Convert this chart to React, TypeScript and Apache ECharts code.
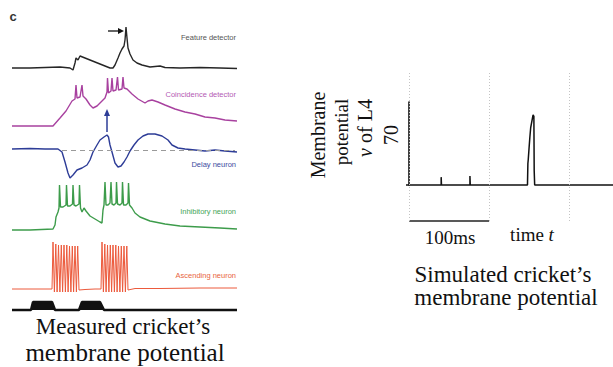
import React, { useEffect, useRef } from "react";
import * as echarts from "echarts";

// ---- Measured traces: [time, potential above resting level] ----
const featureDetector: [number, number][] = [
  [2, 0], [20, 0], [35, 0.5], [50, 1], [60, 0], [63, -2], [65, 5], [66, 10], [68, 8], [70, 12],
  [75, 10], [80, 8], [85, 6], [90, 4], [95, 2], [100, 0], [103, 0], [105, 3], [108, 10], [110, 15],
  [112, 19], [114, 22], [115, 28], [116, 41], [117, 30], [118, 20], [120, 14], [123, 8], [127, 5],
  [132, 3], [140, 1], [150, 2], [155, 0.5], [170, 0], [190, 0.5], [210, 0], [227, -0.5],
];
const coincidenceDetector: [number, number][] = [
  [2, 0], [20, 0], [43, 0], [50, 8], [56, 15], [62, 25], [65, 27], [66, 41], [67, 28], [70, 29],
  [72, 41], [73, 30], [76, 27], [80, 21], [83, 18], [87, 20], [91, 24], [95, 28], [97, 34],
  [97.5, 48], [98.5, 33], [101, 35], [102, 48], [103, 35], [106, 36], [107.5, 49], [108.5, 36],
  [112, 37], [113, 49], [114, 38], [117, 37], [122, 32], [128, 27], [135, 23], [138, 25],
  [142, 26], [148, 24], [155, 21], [165, 17], [175, 14], [185, 12], [195, 9], [205, 8], [215, 6], [227, 5],
];
const delayNeuron: [number, number][] = [
  [2, 0], [20, 0.5], [35, 0], [48, 0], [52, -3], [55, -13], [58, -24], [60, -29], [63, -26],
  [67, -21], [72, -19], [77, -16], [80, -11], [83, -3], [87, 4], [90, 9], [94, 12], [97, 14],
  [98.5, 12], [100, 4], [102, -3], [105, -14], [108, -18], [111, -17], [114, -13], [117, -8],
  [120, -2], [124, 4], [128, 9], [133, 13], [138, 15], [145, 15], [152, 13], [158, 9], [162, 4],
  [168, 1], [175, 0], [185, -1], [195, -2], [205, -1], [215, -2], [227, -3],
];
const delayRestLevel = -1;
const delayRestFrom = 52;
const delayRestTo = 225;
const inhibitoryNeuron: [number, number][] = [
  [2, 0], [20, 0], [43, 1], [45, 5], [46, 13], [48, 18], [49, 22], [49.5, 45], [50.5, 23], [53, 23],
  [56, 25], [56.5, 45], [57.5, 24], [60, 24], [62.5, 26], [63, 45], [64, 25], [66, 24], [69, 26],
  [69.5, 45], [70.5, 22], [72, 18], [74, 22], [76, 19], [80, 14], [85, 11], [90, 8], [92, 7],
  [93, 20], [94, 25], [95, 48], [96, 25], [98, 25], [100, 27], [101, 48], [102, 26], [104, 25],
  [106, 27], [106.5, 48], [107.5, 26], [110, 25], [112, 27], [112.5, 48], [113.5, 25], [116, 25],
  [118, 27], [118.5, 47], [119.5, 25], [122, 22], [125, 17], [130, 13], [140, 9], [155, 6],
  [170, 4], [190, 3], [210, 2], [227, 1],
];
const ascendingNeuron: [number, number][] = [
  [2, 0], [20, 0], [42, 0], [43, 47], [44.4, -3], [45.8, 45], [47.1, -3], [48.5, 44], [49.9, -3],
  [51.3, 44], [52.6, -3], [54, 44], [55.4, -3], [56.8, 44], [58.1, -3], [59.5, 43], [60.9, -3],
  [62.3, 43], [63.6, -3], [65, 43], [66.4, -3], [67.7, 43], [69, -1], [75, -0.5], [85, 0], [91, 0],
  [92, 47], [93.4, -3], [94.8, 45], [96.1, -3], [97.5, 44], [98.9, -3], [100.3, 44], [101.6, -3],
  [103, 44], [104.4, -3], [105.8, 44], [107.1, -3], [108.5, 43], [109.9, -3], [111.3, 43],
  [112.6, -3], [114, 43], [115.4, -3], [116.8, 43], [118, -1], [125, 0.5], [150, 0.5], [190, 1], [227, 1],
];
const stimulus: [number, number][] = [
  [2, 0], [21, 0], [23, 8], [42, 8], [45, 0], [69, 0], [72, 8], [90, 8], [94, 0], [227, 0],
];

// ---- Simulated trace (ms, membrane potential v of L4) ----
const simulatedL4: [number, number][] = [
  [-4, 0], [40, 0], [40, 11], [40.4, 0], [76, 0], [76, 12.6], [76.4, 0], [148, 0], [148.5, 30],
  [149, 36], [150, 52], [151, 67], [152, 80], [153, 86], [154, 92], [155, 98], [156, 96],
  [156.4, 20], [157, 0], [255, 0],
];
const simGridTimes = [0, 100, 200];
const scaleBar: [number, number][] = [[0, 0], [100, 0]];
const yTickLabel = 70;

const traceNames = ["Feature detector", "Coincidence detector", "Delay neuron", "Inhibitory neuron", "Ascending neuron"];

const SERIF = "Liberation Serif";
const SANS = "Liberation Sans";

function txt(x: number, y: number, text: string, size: number, extra: any = {}) {
  return {
    type: "text", x, y, ...extra,
    style: {
      text, fontFamily: SERIF, fontSize: size, fill: "#111", align: "center", verticalAlign: "middle",
      ...(extra.style || {}),
    },
  };
}

export default function App() {
  const ref = useRef<HTMLDivElement>(null);
  useEffect(() => {
    const chart = echarts.init(ref.current!, null, { renderer: "svg" });
    const layout = [
      { base: 68, min: -5, max: 45 },
      { base: 126, min: -5, max: 52 },
      { base: 149, min: -32, max: 18 },
      { base: 230, min: -5, max: 50 },
      { base: 289, min: -6, max: 50 },
      { base: 310, min: -3, max: 12 },
    ];
    const datas = [featureDetector, coincidenceDetector, delayNeuron, inhibitoryNeuron, ascendingNeuron, stimulus];
    const colors = ["#262626", "#a8419f", "#2d3c97", "#3d9c4b", "#ec5a3c", "#111111"];
    const labelColors = ["#555555", "#b45ab4", "#3d4ba0", "#45a457", "#e8643e"];
    const labelY = [37, 94, 164, 211, 275];

    const grids: any[] = layout.map((l) => ({
      left: 10, width: 227, top: l.base - l.max, height: l.max - l.min,
    }));
    grids.push({ left: 406, right: 0, top: 73, bottom: 146 });
    grids.push({ left: 406, right: 0, top: 102, bottom: 182 });

    const xAxes: any[] = layout.map((_, i) => ({ type: "value", gridIndex: i, min: 0, max: 227, show: false }));
    xAxes.push({ type: "value", gridIndex: 6, min: -4, max: 255, show: false });
    xAxes.push({ type: "value", gridIndex: 7, min: -4, max: 255, show: false });

    const yAxes: any[] = layout.map((l, i) => ({ type: "value", gridIndex: i, min: l.min, max: l.max, show: false }));
    yAxes.push({ type: "value", gridIndex: 6, min: 0, max: 1, show: false });
    yAxes.push({
      type: "value", gridIndex: 7, min: 0, max: 116, interval: 70,
      axisLine: { show: true, lineStyle: { color: "#111", width: 1.6 } },
      axisTick: { show: false },
      splitLine: { show: false },
      axisLabel: {
        rotate: 90, margin: 5, color: "#111", fontFamily: SERIF, fontSize: 20,
        formatter: (v: number) => (v === yTickLabel ? String(v) : ""),
        showMinLabel: false, showMaxLabel: false,
      },
    });

    const series: any[] = datas.map((d, i) => {
      const s: any = {
        type: "line", xAxisIndex: i, yAxisIndex: i, data: d, symbol: "none", clip: false,
        lineStyle: { color: colors[i], width: i === 5 ? 2.5 : i === 4 ? 1 : 1.4 },
        silent: true,
      };
      if (i === 5) s.areaStyle = { color: "#111", opacity: 1 };
      if (i === 2) {
        s.markLine = {
          silent: true, symbol: "none", label: { show: false },
          lineStyle: { color: "#9a9a9a", type: [5, 4], width: 1 },
          data: [[{ coord: [delayRestFrom, delayRestLevel] }, { coord: [delayRestTo, delayRestLevel] }]],
        };
      }
      return s;
    });
    series.push({
      type: "line", xAxisIndex: 6, yAxisIndex: 6, data: scaleBar, symbol: "none", clip: false,
      lineStyle: { color: "#222", width: 1.3 },
      markLine: {
        silent: true, symbol: "none", label: { show: false },
        lineStyle: { color: "#c4c4c4", type: [1, 2], width: 1 },
        data: simGridTimes.map((t) => ({ xAxis: t })),
      },
    });
    series.push({
      type: "line", xAxisIndex: 7, yAxisIndex: 7, data: simulatedL4, symbol: "none", clip: false,
      lineStyle: { color: "#111", width: 1.5 },
    });

    const graphics: any[] = [
      { type: "text", x: 13, y: 16, style: { text: "c", font: "bold 13px Liberation Sans", fill: "#333", align: "center", verticalAlign: "middle" } },
      { type: "line", shape: { x1: 108, y1: 31, x2: 119, y2: 31 }, style: { stroke: "#111", lineWidth: 1.3 } },
      { type: "polygon", shape: { points: [[118, 28], [118, 34], [124, 31]] }, style: { fill: "#111" } },
      { type: "line", shape: { x1: 107, y1: 132, x2: 107, y2: 115 }, style: { stroke: "#2d3c97", lineWidth: 1.5 } },
      { type: "polygon", shape: { points: [[104, 116], [110, 116], [107, 109]] }, style: { fill: "#2d3c97" } },
      txt(123, 326, "Measured cricket\u2019s", 23),
      txt(125, 352, "membrane potential", 25),
      txt(318, 135, "Membrane", 20, { rotation: Math.PI / 2 }),
      {
        type: "text", x: 341, y: 132, rotation: Math.PI / 2,
        style: { text: "potential", font: "19px Liberation Serif", fill: "#111", align: "center", verticalAlign: "middle" },
      },
      {
        type: "text", x: 365, y: 128, rotation: Math.PI / 2,
        style: {
          text: "{i|v}{n| of L4}", fill: "#111", align: "center", verticalAlign: "middle",
          rich: {
            i: { fontFamily: SERIF, fontSize: 20, fontStyle: "italic", fill: "#111" },
            n: { fontFamily: SERIF, fontSize: 20, fill: "#111" },
          },
        },
      },
      txt(450, 237, "100ms", 19),
      {
        type: "text", x: 532, y: 234,
        style: {
          text: "{n|time }{i|t}", fill: "#111", align: "center", verticalAlign: "middle",
          rich: {
            i: { fontFamily: SERIF, fontSize: 19, fontStyle: "italic", fill: "#111" },
            n: { fontFamily: SERIF, fontSize: 19, fill: "#111" },
          },
        },
      },
      txt(503, 274, "Simulated cricket\u2019s", 23),
      txt(506, 297, "membrane potential", 23),
    ];
    traceNames.forEach((name, i) => {
      graphics.push({
        type: "text", x: 236, y: labelY[i],
        style: { text: name, fontFamily: SANS, fontSize: 7.5, fill: labelColors[i], align: "right", verticalAlign: "middle" },
      });
    });

    chart.setOption({
      animation: false,
      backgroundColor: "#fff",
      grid: grids,
      xAxis: xAxes,
      yAxis: yAxes,
      series,
      graphic: graphics,
    });
    return () => chart.dispose();
  }, []);
  return (
    <div
      ref={ref}
      style={{ position: "fixed", left: 0, top: 0, width: 613, height: 367, background: "#fff" }}
    />
  );
}
